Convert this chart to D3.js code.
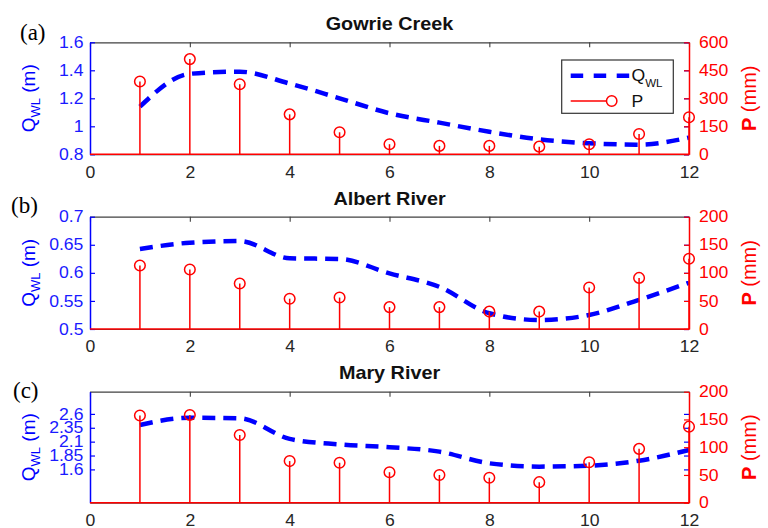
<!DOCTYPE html>
<html>
<head>
<meta charset="utf-8">
<script src="https://cdn.jsdelivr.net/npm/d3@7"></script>
<style>
  html, body { margin: 0; padding: 0; background: #fff; }
  svg { display: block; }
  text { font-family: "Liberation Sans", Arial, sans-serif; }
</style>
</head>
<body>
<svg id="chart" width="768" height="528"></svg>
<script>
// ---------- data ----------
const months = [1, 2, 3, 4, 5, 6, 7, 8, 9, 10, 11, 12];
const xTicks = [0, 2, 4, 6, 8, 10, 12];
const titles = ["Gowrie Creek", "Albert River", "Mary River"];
const panelTags = ["(a)", "(b)", "(c)"];

const qGowrie = [1.14, 1.375, 1.39, 1.305, 1.20, 1.093, 1.026, 0.961, 0.907, 0.879, 0.869, 0.919];
const pGowrie = [390, 510, 375, 214, 118, 54, 45, 45, 41, 54, 109, 198];
const qAlbert = [0.6425, 0.6537, 0.6567, 0.626, 0.6247, 0.599, 0.575, 0.528, 0.516, 0.525, 0.552, 0.5825];
const pAlbert = [113, 106, 81, 54, 56, 39, 39, 31, 31, 74, 91, 125];
const qMary = [2.40, 2.53, 2.52, 2.15, 2.05, 2.00, 1.92, 1.71, 1.65, 1.667, 1.757, 1.95];
const pMary = [157, 158, 122, 75, 72, 55, 50, 45, 37, 73, 97, 137];

const qTicksGowrie = [0.8, 1, 1.2, 1.4, 1.6];
const qTicksAlbert = [0.5, 0.55, 0.6, 0.65, 0.7];
const qTicksMary = [1.6, 1.85, 2.1, 2.35, 2.6];
const pTicksGowrie = [0, 150, 300, 450, 600];
const pTicksAlbert = [0, 50, 100, 150, 200];
const pTicksMary = [0, 50, 100, 150, 200];

const qDomains = [[0.8, 1.6], [0.5, 0.7], [1, 3]];
const pDomains = [[0, 600], [0, 200], [0, 200]];

const qSeries = [qGowrie, qAlbert, qMary];
const pSeries = [pGowrie, pAlbert, pMary];
const qTicks = [qTicksGowrie, qTicksAlbert, qTicksMary];
const pTicks = [pTicksGowrie, pTicksAlbert, pTicksMary];

// ---------- layout ----------
const BLUE = "#0000ff", RED = "#ff0000", GRAY = "#404040", TXT = "#262626";
const SX = 1.1; // horizontal stretch of text in the reference
const left = 90, right = 689;
const tops = [42.3, 216.7, 391.7];
const bottoms = [154.3, 329, 502.7];
const titleY = [30, 205, 378.5];
const tagX = [20, 11, 13];
const tagY = [39.5, 213, 398];

const svg = d3.select("#chart");
const x = d3.scaleLinear().domain([0, 12]).range([left, right]);

function styleText(sel, color, size) {
  sel.attr("fill", color).style("font-size", size + "px")
     .style("font-family", '"Liberation Sans", Arial, sans-serif');
}

for (let i = 0; i < 3; i++) {
  const top = tops[i], bot = bottoms[i];
  const yL = d3.scaleLinear().domain(qDomains[i]).range([bot, top]);
  const yR = d3.scaleLinear().domain(pDomains[i]).range([bot, top]);
  const g = svg.append("g");

  // top border + inward ticks
  const topAx = g.append("g").attr("transform", `translate(0,${top})`)
    .call(d3.axisTop(x).tickValues(xTicks).tickSize(-5).tickSizeOuter(0).tickFormat(""));
  topAx.select(".domain").attr("stroke", GRAY).attr("stroke-width", 1.3);
  topAx.selectAll(".tick line").attr("stroke", GRAY).attr("stroke-width", 1.1);

  // bottom x labels
  const botAx = g.append("g").attr("transform", `translate(0,${bot})`)
    .call(d3.axisBottom(x).tickValues(xTicks).tickSize(0).tickPadding(12).tickFormat(d3.format("d")));
  botAx.select(".domain").attr("stroke", GRAY);
  botAx.selectAll(".tick text").call(styleText, TXT, 16).attr("transform", `scale(${SX},1)`);

  // Q_WL dashed line
  const line = d3.line().x((d, j) => x(months[j])).y(d => yL(d)).curve(d3.curveMonotoneX);
  g.append("path").datum(qSeries[i]).attr("d", line)
    .attr("fill", "none").attr("stroke", BLUE).attr("stroke-width", 4.5)
    .attr("stroke-dasharray", "13,8");

  // left axis (blue)
  const lAx = g.append("g").attr("transform", `translate(${left},0)`)
    .call(d3.axisLeft(yL).tickValues(qTicks[i]).tickSize(-5).tickSizeOuter(0).tickPadding(6)
      .tickFormat(d => String(d)));
  lAx.select(".domain").attr("stroke", BLUE).attr("stroke-width", 1.5);
  lAx.selectAll(".tick line").attr("stroke", BLUE).attr("stroke-width", 1.2);
  lAx.selectAll(".tick text").call(styleText, "#1a1aff", 16).attr("transform", `scale(${SX},1)`);

  // mirrored blue ticks on right
  const mAx = g.append("g").attr("transform", `translate(${right},0)`)
    .call(d3.axisRight(yL).tickValues(qTicks[i]).tickSize(-5).tickSizeOuter(0).tickFormat(""));
  mAx.select(".domain").remove();
  mAx.selectAll(".tick line").attr("stroke", BLUE).attr("stroke-width", 1.2);

  // stems
  const p = pSeries[i];
  g.selectAll("line.stem").data(p).enter().append("line").attr("class", "stem")
    .attr("x1", (d, j) => x(months[j])).attr("x2", (d, j) => x(months[j]))
    .attr("y1", yR(0)).attr("y2", d => yR(d))
    .attr("stroke", RED).attr("stroke-width", 1.5);
  g.selectAll("circle.stem").data(p).enter().append("circle").attr("class", "stem")
    .attr("cx", (d, j) => x(months[j])).attr("cy", d => yR(d)).attr("r", 5.3)
    .attr("fill", "none").attr("stroke", RED).attr("stroke-width", 1.5);
  // stem baseline
  g.append("line").attr("x1", x(0)).attr("x2", x(12)).attr("y1", yR(0)).attr("y2", yR(0))
    .attr("stroke", RED).attr("stroke-width", 1.6);

  // right axis (red)
  const rAx = g.append("g").attr("transform", `translate(${right},0)`)
    .call(d3.axisRight(yR).tickValues(pTicks[i]).tickSize(-5).tickSizeOuter(0).tickPadding(9)
      .tickFormat(d3.format("d")));
  rAx.select(".domain").attr("stroke", RED).attr("stroke-width", 1.5);
  rAx.selectAll(".tick line").attr("stroke", RED).attr("stroke-width", 1.2);
  rAx.selectAll(".tick text").call(styleText, RED, 16).attr("transform", `scale(${SX},1)`);

  // title
  g.append("text").attr("transform", `translate(${(left + right) / 2},${titleY[i]}) scale(${SX},1)`)
    .attr("text-anchor", "middle").style("font-weight", "bold").call(styleText, "#111", 18)
    .text(titles[i]);

  // panel tag
  g.append("text").attr("x", tagX[i]).attr("y", tagY[i])
    .style("font-family", '"Liberation Serif", "Times New Roman", serif')
    .style("font-size", "23px").attr("fill", "#000").text(panelTags[i]);

  // left label
  const cy = (top + bot) / 2;
  const ll = g.append("text").attr("transform", `translate(35,${cy}) rotate(-90)`)
    .attr("text-anchor", "middle").call(styleText, BLUE, 19);
  ll.append("tspan").text("Q");
  ll.append("tspan").attr("dy", 5).style("font-size", "13px").text("WL");
  ll.append("tspan").attr("dy", -5).text(" (m)");

  // right label
  const rl = g.append("text").attr("transform", `translate(756,${cy}) rotate(-90)`)
    .attr("text-anchor", "middle").call(styleText, RED, 20);
  rl.append("tspan").style("font-weight", "bold").text("P");
  rl.append("tspan").text(" (mm)");
}

// legend (panel a)
const lg = svg.append("g");
lg.append("rect").attr("x", 561.7).attr("y", 60).attr("width", 111.6).attr("height", 53.3)
  .attr("fill", "#fff").attr("stroke", "#333").attr("stroke-width", 1.2);
lg.append("line").attr("x1", 570.7).attr("x2", 629.3).attr("y1", 75.7).attr("y2", 75.7)
  .attr("stroke", BLUE).attr("stroke-width", 4.5).attr("stroke-dasharray", "12.5,10.5");
const lq = lg.append("text").attr("transform", `translate(631.5,81) scale(${SX},1)`).call(styleText, "#111", 16);
lq.append("tspan").text("Q");
lq.append("tspan").attr("dy", 5.5).style("font-size", "10.5px").text("WL");
lg.append("line").attr("x1", 570.7).attr("x2", 606.5).attr("y1", 101).attr("y2", 101)
  .attr("stroke", RED).attr("stroke-width", 1.5);
lg.append("circle").attr("cx", 611.7).attr("cy", 101).attr("r", 5.2)
  .attr("fill", "none").attr("stroke", RED).attr("stroke-width", 1.5);
lg.append("text").attr("transform", `translate(631.5,106.5) scale(${SX},1)`).call(styleText, "#111", 16).text("P");
</script>
</body>
</html>
